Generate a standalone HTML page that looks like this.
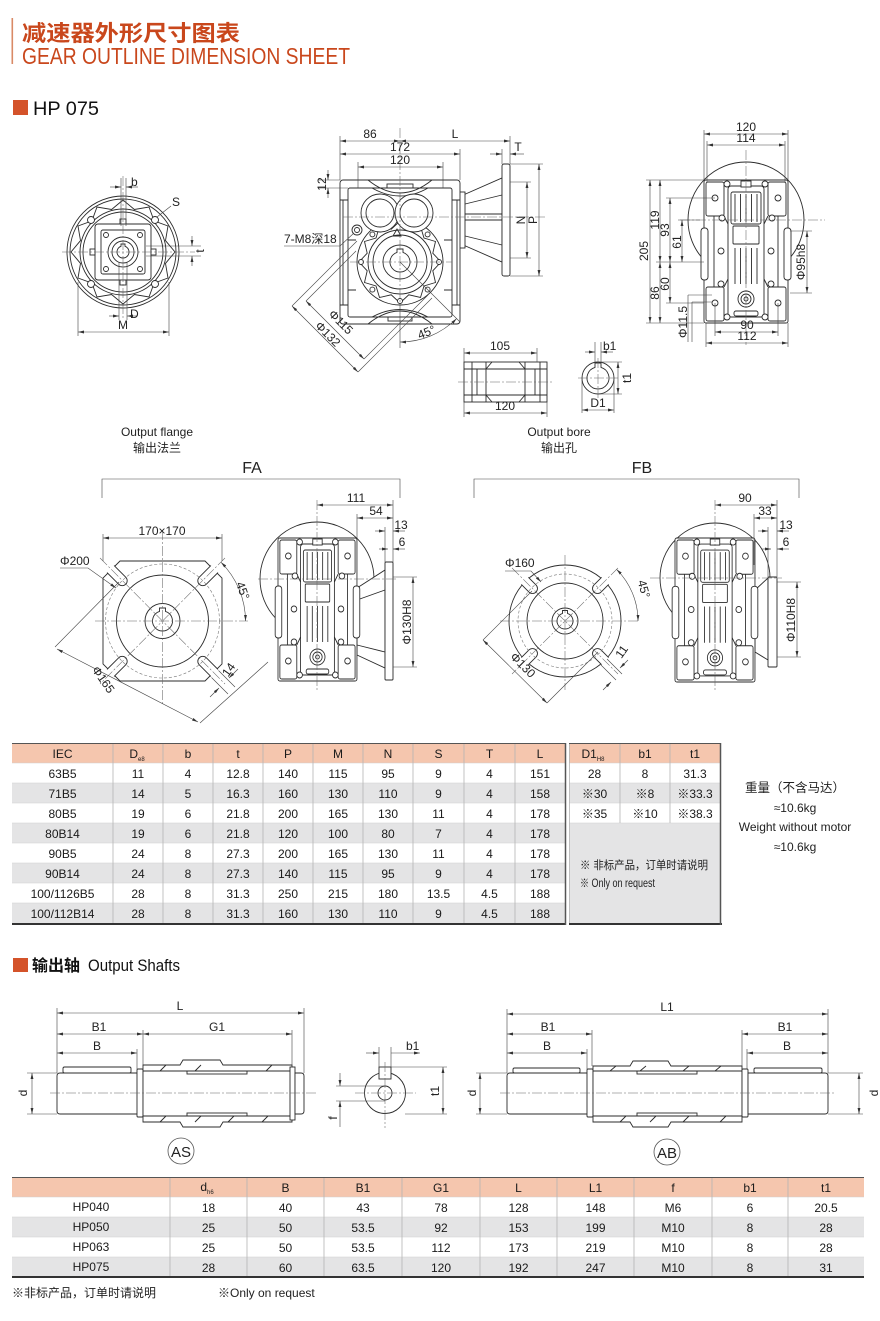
<!DOCTYPE html>
<html><head><meta charset="utf-8">
<style>
html,body{margin:0;padding:0;background:#fff}
svg{display:block}
.o{fill:none;stroke:#2b2b2b;stroke-width:.9}
.w{fill:#fff;stroke:#2b2b2b;stroke-width:.9}
.d{fill:none;stroke:#444;stroke-width:.6}
.da{marker-start:url(#a);marker-end:url(#a)}
.de{marker-end:url(#a)}
.c{fill:none;stroke:#666;stroke-width:.55;stroke-dasharray:10 2 2 2}
.dc{fill:none;stroke:#777;stroke-width:.6;stroke-dasharray:3 2}
text{font-family:"Liberation Sans Narrow","Liberation Sans","Noto Sans CJK SC",sans-serif;fill:#222;font-size:12px}
.m{text-anchor:middle}
.tb{font-size:12px}
.tb text{fill:#1a1a1a}
.gl{stroke:#b4b4b4;stroke-width:.8}
.rl{stroke:#cfcfcf;stroke-width:.6}
</style></head><body>
<svg width="880" height="1321" viewBox="0 0 880 1321" xmlns="http://www.w3.org/2000/svg">
<defs>
<marker id="a" viewBox="0 0 10 10" refX="10" refY="5" markerWidth="6" markerHeight="6" markerUnits="userSpaceOnUse" orient="auto-start-reverse"><path d="M0,2.6 L10,5 L0,7.4z" fill="#333"/></marker>
<g id="ev">
  <rect class="w" x="0" y="0" width="84" height="143" rx="2"/>
  <rect class="w" x="-3" y="48" width="7" height="52" rx="3"/>
  <rect class="w" x="80" y="48" width="7" height="52" rx="3"/>
  <rect class="o" x="2" y="2" width="18" height="34" rx="2"/>
  <rect class="o" x="64" y="2" width="18" height="34" rx="2"/>
  <rect class="o" x="2" y="107" width="18" height="34" rx="2"/>
  <rect class="o" x="64" y="107" width="18" height="34" rx="2"/>
  <path class="o" d="M10,36 V107 M74,36 V107 M20,36 L24,44 M64,36 L60,44 M20,107 L24,99 M64,107 L60,99"/>
  <rect class="w" x="24" y="6" width="36" height="131" rx="3"/>
  <rect class="o" x="27" y="12" width="30" height="32" rx="2"/>
  <rect class="o" x="29" y="46" width="26" height="18" rx="1"/>
  <path class="o" d="M31,14 V42 M36.5,14 V42 M42,14 V42 M47.5,14 V42 M53,14 V42 M31,68 V104 M36.5,68 V104 M42,68 V104 M47.5,68 V104 M53,68 V104"/>
  <rect class="w" x="37" y="1" width="10" height="6"/>
  <rect class="o" x="30" y="131" width="24" height="5" rx="2"/>
  <circle class="w" cx="42" cy="119" r="8"/><circle class="o" cx="42" cy="119" r="5"/><circle class="o" cx="42" cy="119" r="2"/>
  <g class="w">
   <circle cx="11" cy="18" r="3"/><circle cx="74" cy="18" r="3"/>
   <circle cx="18" cy="38" r="3"/><circle cx="68" cy="38" r="3"/>
   <circle cx="17" cy="71" r="3"/><circle cx="67" cy="71" r="3"/>
   <circle cx="17" cy="104" r="3"/><circle cx="67" cy="104" r="3"/>
   <circle cx="11" cy="123" r="3"/><circle cx="74" cy="123" r="3"/>
   <circle cx="23" cy="137" r="3"/><circle cx="61" cy="137" r="3"/>
   <circle cx="23" cy="4" r="3"/><circle cx="61" cy="4" r="3"/>
  </g>
</g>
<clipPath id="clipA"><polygon points="119.6,560 205.4,560 223,577.6 223,664.4 205.4,682 119.6,682 102,664.4 102,577.6"/></clipPath>
<clipPath id="clipB"><circle cx="565" cy="621" r="57"/></clipPath>
</defs>

<!-- ===== HEADER ===== -->
<rect x="11.5" y="18" width="1.6" height="46" fill="#d98a66"/>
<text x="22" y="41" textLength="218" lengthAdjust="spacingAndGlyphs" style="font-family:'Liberation Sans','Noto Sans CJK SC',sans-serif;font-size:22px;font-weight:bold;fill:#c9471c">减速器外形尺寸图表</text>
<text x="22" y="64" textLength="328" lengthAdjust="spacingAndGlyphs" style="font-family:'Liberation Sans',sans-serif;font-size:23px;fill:#c9471c">GEAR OUTLINE DIMENSION SHEET</text>
<rect x="13" y="100" width="15" height="15" fill="#d4532a"/>
<text x="33" y="115" textLength="66" lengthAdjust="spacingAndGlyphs" style="font-family:'Liberation Sans',sans-serif;font-size:19px;fill:#111">HP 075</text>

<!-- ===== OUTPUT FLANGE ===== -->
<circle class="w" cx="123" cy="252" r="56"/>
<circle class="o" cx="123" cy="252" r="53"/>
<polygon class="o" points="175,252 165.5,263.4 168,278 154.1,283.1 149,297 134.4,294.5 123,304 111.6,294.5 97,297 91.9,283.1 78,278 80.5,263.4 71,252 80.5,240.6 78,226 91.9,220.9 97,207 111.6,209.5 123,200 134.4,209.5 149,207 154.1,220.9 168,226 165.5,240.6"/>
<circle class="w" cx="123" cy="252" r="43"/>
<circle class="o" cx="123" cy="252" r="40"/>
<g class="w"><circle cx="155" cy="220" r="3.5"/><circle cx="91" cy="220" r="3.5"/><circle cx="91" cy="284" r="3.5"/><circle cx="155" cy="284" r="3.5"/></g>
<rect class="w" x="95" y="224" width="56" height="56" rx="3"/>
<rect class="o" x="101" y="230" width="44" height="44" rx="2"/>
<g class="w"><rect x="120" y="219" width="6" height="5"/><rect x="120" y="280" width="6" height="5"/><rect x="90" y="249" width="5" height="6"/><rect x="151" y="249" width="5" height="6"/></g>
<g class="o"><circle cx="106" cy="235" r="2.5"/><circle cx="140" cy="235" r="2.5"/><circle cx="106" cy="269" r="2.5"/><circle cx="140" cy="269" r="2.5"/></g>
<circle class="w" cx="123" cy="252" r="15"/>
<circle class="o" cx="123" cy="252" r="11"/>
<path class="o" d="M121,246.34 V244 H125 V246.34 A6,6 0 1,1 121,246.34 Z"/>
<line class="c" x1="62" y1="252" x2="195" y2="252"/>
<line class="c" x1="123" y1="176" x2="123" y2="318"/>
<!-- dims -->
<path class="d" d="M121,178 V226 M126,178 V226"/>
<path class="d de" d="M110,187 H121"/><path class="d de" d="M138,187 H126"/>
<text x="131" y="186">b</text>
<path class="d" d="M157,217 L171,206"/>
<text x="172" y="206">S</text>
<path class="d" d="M146,246 H201 M146,256 H201"/>
<path class="d de" d="M192,236 V246"/><path class="d de" d="M192,266 V256"/>
<text class="m" transform="rotate(-90 204 251)" x="204" y="251">t</text>
<path class="d" d="M119,262 V320 M127,262 V320"/>
<path class="d de" d="M109,316 H119"/><path class="d de" d="M137,316 H127"/>
<text x="130" y="318">D</text>
<path class="d" d="M78,282 V336 M169,282 V336"/>
<path class="d da" d="M78,332 H169"/>
<text class="m" x="123" y="329">M</text>
<text class="m" x="157" y="436">Output flange</text>
<text class="m" x="157" y="452" style="font-family:'Liberation Sans','Noto Sans CJK SC',sans-serif">输出法兰</text>

<!-- ===== MAIN SIDE VIEW ===== -->
<polygon class="w" points="461,196 502,178 502,262 461,244"/>
<path class="o" d="M461,205 L502,195 M461,235 L502,245 M461,214 H502 M461,220 H502"/>
<rect class="w" x="459" y="192" width="6" height="56"/>
<rect class="w" x="502" y="164" width="8" height="112" rx="2"/>
<rect class="w" x="340" y="180" width="120" height="144" rx="3"/>
<rect class="o" x="348" y="188" width="104" height="129" rx="2"/>
<path class="o" d="M343,200 V305 M457,200 V305 M340,200 H348 M340,305 H348 M452,200 H460 M452,305 H460 M368,180 Q400,206 432,180 M372,188 Q400,204 428,188 M368,324 Q400,298 432,324 M372,317 Q400,302 428,317 M348,240 H356 M444,240 H452 M348,290 H356 M444,290 H452"/>
<rect class="o" x="387" y="184" width="26" height="4"/>
<rect class="o" x="388" y="317" width="24" height="4"/>
<circle class="w" cx="400" cy="262" r="43"/>
<polygon class="o" points="441,262 432.8,270.8 435.5,282.5 424,286 420.5,297.5 408.8,294.8 400,303 391.2,294.8 379.5,297.5 376,286 364.5,282.5 367.2,270.8 359,262 367.2,253.2 364.5,241.5 376,238 379.5,226.5 391.2,229.2 400,221 408.8,229.2 420.5,226.5 424,238 435.5,241.5 432.8,253.2"/>
<circle class="w" cx="400" cy="262" r="32"/>
<circle class="o" cx="400" cy="262" r="27"/>
<circle class="o" cx="400" cy="262" r="17"/>
<path class="o" d="M397,252.46 V249 H403 V252.46 A10,10 0 1,1 397,252.46 Z"/>
<g class="w"><circle cx="439" cy="262" r="2.5"/><circle cx="361" cy="262" r="2.5"/><circle cx="427.6" cy="289.6" r="2.5"/><circle cx="372.4" cy="289.6" r="2.5"/><circle cx="400" cy="301" r="2.5"/><circle cx="372.4" cy="234.4" r="2.5"/><circle cx="427.6" cy="234.4" r="2.5"/></g>
<circle class="w" cx="380" cy="213" r="19"/>
<circle class="w" cx="414" cy="213" r="19"/>
<circle class="o" cx="380" cy="213" r="14"/>
<circle class="o" cx="414" cy="213" r="14"/>
<path class="o" d="M393,236 L397,229 L401,236 Z"/>
<circle class="w" cx="357" cy="230" r="5"/><circle class="o" cx="357" cy="230" r="2.5"/>
<line class="c" x1="400" y1="128" x2="400" y2="305"/>
<line class="c" x1="343" y1="217" x2="545" y2="217"/>
<line class="c" x1="350" y1="262" x2="452" y2="262"/>
<!-- dims main -->
<path class="d" d="M340,136 V180 M510,136 V164 M460,149 V180 M358,162 V188 M443,162 V188"/>
<path class="d da" d="M340,141 H400"/><path class="d da" d="M400,141 H510"/>
<text class="m" x="370" y="138">86</text><text class="m" x="455" y="138">L</text>
<path class="d da" d="M340,154 H460"/>
<text class="m" x="400" y="151">172</text>
<path class="d da" d="M358,167 H443"/>
<text class="m" x="400" y="164">120</text>
<path class="d" d="M502,149 V164"/>
<path class="d de" d="M490,154 H502"/><path class="d de" d="M524,154 H510"/>
<text class="m" x="518" y="151">T</text>
<path class="d" d="M318,180 H340 M318,188 H348"/>
<path class="d de" d="M328,170 V180"/><path class="d de" d="M328,198 V188"/>
<text class="m" transform="rotate(-90 326 184)" x="326" y="184">12</text>
<path class="d" d="M510,182 H531 M510,258 H531 M510,164 H543 M510,276 H543"/>
<path class="d da" d="M527,182 V258"/><path class="d da" d="M539,164 V276"/>
<text class="m" transform="rotate(-90 525 220)" x="525" y="220">N</text>
<text class="m" transform="rotate(-90 537 220)" x="537" y="220">P</text>
<text x="284" y="243">7-M8<tspan style="font-family:'Liberation Sans','Noto Sans CJK SC',sans-serif">深</tspan>18</text>
<path class="d" d="M284,246 H340 L354,233"/>
<path class="d" d="M292,306 L357,241 M358,372 L432,298 M306,301 L356,251 M364,359 L428,295"/>
<path class="d da" d="M292,306 L358,372"/>
<path class="d da" d="M306,301 L364,359"/>
<text class="m" transform="rotate(45 338 325)" x="338" y="325">Φ115</text>
<text class="m" transform="rotate(45 325 337)" x="325" y="337">Φ132</text>
<path class="d" d="M400,305 V348 M400,262 L460,322"/>
<path class="d da" d="M400,342 A80,80 0 0,0 456.6,318.6"/>
<text class="m" transform="rotate(-22 428 336)" x="428" y="336">45°</text>

<!-- ===== OUTPUT BORE ===== -->
<rect class="w" x="464" y="362" width="83" height="40"/>
<path class="o" d="M464,369 H547 M464,395 H547 M472,362 V402 M477,369 V395 M535,369 V395 M540,362 V402 M486,362 V402 M525,362 V402 M486,369 L492,362 M525,369 L519,362 M486,395 L492,402 M525,395 L519,402"/>
<line class="c" x1="458" y1="382" x2="553" y2="382"/>
<path class="d" d="M464,348 V362 M537,348 V362 M464,402 V417 M547,402 V417"/>
<path class="d da" d="M464,353 H537"/>
<text class="m" x="500" y="350">105</text>
<path class="d da" d="M464,413 H547"/>
<text class="m" x="505" y="410">120</text>
<circle class="w" cx="598" cy="378" r="16"/>
<path class="o" d="M595,367.42 V363 H601 V367.42 A11,11 0 1,1 595,367.42 Z"/>
<line class="c" x1="578" y1="378" x2="618" y2="378"/>
<line class="c" x1="598" y1="358" x2="598" y2="398"/>
<path class="d" d="M595,342 V363 M601,342 V363"/>
<path class="d de" d="M585,352 H595"/><path class="d de" d="M613,352 H601"/>
<text x="603" y="350">b1</text>
<path class="d" d="M601,362 H622 M598,394 H622"/>
<path class="d da" d="M618,362 V394"/>
<text class="m" transform="rotate(-90 631 378)" x="631" y="378">t1</text>
<path class="d" d="M582,380 V413 M614,380 V413"/>
<path class="d da" d="M582,410 H614"/>
<text class="m" x="598" y="407">D1</text>
<text class="m" x="559" y="436">Output bore</text>
<text class="m" x="559" y="452" style="font-family:'Liberation Sans','Noto Sans CJK SC',sans-serif">输出孔</text>

<!-- ===== RIGHT END VIEW ===== -->
<circle class="w" cx="746" cy="220" r="58"/>
<use href="#ev" transform="translate(704,180)"/>
<line class="c" x1="746" y1="150" x2="746" y2="345"/>
<line class="c" x1="680" y1="220" x2="825" y2="220"/>
<path class="d" d="M704,130 V180 M788,130 V180 M707,141 V182 M785,141 V182"/>
<path class="d da" d="M704,134 H788"/><text class="m" x="746" y="131">120</text>
<path class="d da" d="M707,145 H785"/><text class="m" x="746" y="142">114</text>
<path class="d" d="M646,180 H704 M646,323 H704 M656,262 H704 M666,198 H715 M678,220 H700 M666,303 H704"/>
<path class="d da" d="M650,180 V323"/>
<text class="m" transform="rotate(-90 648 251)" x="648" y="251">205</text>
<path class="d da" d="M660,180 V262"/>
<text class="m" transform="rotate(-90 659 220)" x="659" y="220">119</text>
<path class="d da" d="M670,198 V262"/>
<text class="m" transform="rotate(-90 669 230)" x="669" y="230">93</text>
<path class="d da" d="M682,220 V262"/>
<text class="m" transform="rotate(-90 681 242)" x="681" y="242">61</text>
<path class="d da" d="M660,262 V323"/>
<text class="m" transform="rotate(-90 659 293)" x="659" y="293">86</text>
<path class="d da" d="M670,262 V303"/>
<text class="m" transform="rotate(-90 669 284)" x="669" y="284">60</text>
<path class="d" d="M688,295 V342 M692,302 V342 M688,295 H712 M692,302 H712"/>
<text class="m" transform="rotate(-90 687 322)" x="687" y="322">Φ11.5</text>
<path class="d" d="M790,231 H812 M790,293 H812"/>
<path class="d da" d="M807,231 V293"/>
<text class="m" transform="rotate(-90 805 262)" x="805" y="262">Φ95h8</text>
<path class="d" d="M715,303 V336 M778,303 V336 M706,323 V347 M788,323 V347"/>
<path class="d da" d="M715,332 H778"/><text class="m" x="747" y="329">90</text>
<path class="d da" d="M706,343 H788"/><text class="m" x="747" y="340">112</text>

<!-- ===== FA ===== -->
<path class="d" d="M102,498 V479 H400 V498"/>
<text class="m" x="252" y="473" style="font-size:16px;font-family:'Liberation Sans',sans-serif">FA</text>
<polygon class="w" points="120,561 205,561 222,578 222,664 205,681 120,681 103,664 103,578"/>
<g clip-path="url(#clipA)">
<path class="w" transform="translate(162.5,621) rotate(45)" d="M90,-5 L57,-5 A5,5 0 0 0 57,5 L90,5 Z"/>
<path class="w" transform="translate(162.5,621) rotate(135)" d="M90,-5 L57,-5 A5,5 0 0 0 57,5 L90,5 Z"/>
<path class="w" transform="translate(162.5,621) rotate(225)" d="M90,-5 L57,-5 A5,5 0 0 0 57,5 L90,5 Z"/>
<path class="w" transform="translate(162.5,621) rotate(315)" d="M90,-5 L57,-5 A5,5 0 0 0 57,5 L90,5 Z"/>
</g>
<circle class="dc" cx="162.5" cy="621" r="57"/>
<circle class="o" cx="162.5" cy="621" r="46"/>
<circle class="o" cx="162.5" cy="621" r="17.5"/>
<path class="o" d="M159.5,611.46 V608 H165.5 V611.46 A10,10 0 1,1 159.5,611.46 Z"/>
<line class="c" x1="95" y1="621" x2="248" y2="621"/>
<line class="c" x1="162.5" y1="530" x2="162.5" y2="705"/>
<line class="c" x1="100" y1="558" x2="225" y2="684"/>
<line class="c" x1="225" y1="558" x2="100" y2="684"/>
<path class="d" d="M103,534 V561 M222,534 V561"/>
<path class="d da" d="M103,538 H222"/>
<text class="m" x="162" y="535">170×170</text>
<text x="60" y="565">Φ200</text>
<path class="d de" d="M60,568 H88 L116,588"/>
<path class="d" d="M55,647 L119,582 M200,723 L268,662"/>
<path class="d da" d="M57,649 L198,722"/>
<text class="m" transform="rotate(55 100 682)" x="100" y="682">Φ165</text>
<path class="d da" d="M221,562.3 A83,83 0 0 1 245.5,621"/>
<text class="m" transform="rotate(70 239 592)" x="239" y="592">45°</text>
<path class="d" d="M218.5,670.5 L235,687 M211.5,677.5 L228,694"/>
<path class="d de" d="M238,669 L229,678"/><path class="d de" d="M210,697 L219,688"/>
<text class="m" transform="rotate(-55 232 672)" x="232" y="672">14</text>
<!-- FA side -->
<circle class="w" cx="317" cy="579" r="57"/>
<polygon class="w" points="357,588 385,570 385,668 357,655"/>
<path class="o" d="M357,600 L385,590 M357,645 L385,652"/>
<rect class="w" x="385" y="562" width="8" height="118" rx="1"/>
<use href="#ev" transform="translate(278,538) scale(0.94,1)"/>
<line class="c" x1="258" y1="579" x2="398" y2="579"/>
<line class="c" x1="317" y1="500" x2="317" y2="692"/>
<path class="d" d="M393,500 V562 M357,514 V538 M385,527 V562"/>
<path class="d da" d="M317,505 H393"/><text class="m" x="356" y="502">111</text>
<path class="d da" d="M357,518 H393"/><text class="m" x="376" y="515">54</text>
<path class="d de" d="M375,531 H385"/><path class="d de" d="M405,531 H393"/>
<text class="m" x="401" y="529">13</text>
<path class="d de" d="M379,549 H388"/><path class="d de" d="M405,549 H393"/>
<text class="m" x="402" y="546">6</text>
<path class="d" d="M393,577 H417 M393,667 H417"/>
<path class="d da" d="M413,577 V667"/>
<text class="m" transform="rotate(-90 411 622)" x="411" y="622">Φ130H8</text>

<!-- ===== FB ===== -->
<path class="d" d="M474,498 V479 H799 V498"/>
<text class="m" x="642" y="473" style="font-size:16px;font-family:'Liberation Sans',sans-serif">FB</text>
<circle class="w" cx="565" cy="621" r="56"/>
<g clip-path="url(#clipB)">
<path class="w" transform="translate(565,621) rotate(45)" d="M66,-5 L46,-5 A5,5 0 0 0 46,5 L66,5 Z"/>
<path class="w" transform="translate(565,621) rotate(135)" d="M66,-5 L46,-5 A5,5 0 0 0 46,5 L66,5 Z"/>
<path class="w" transform="translate(565,621) rotate(225)" d="M66,-5 L46,-5 A5,5 0 0 0 46,5 L66,5 Z"/>
<path class="w" transform="translate(565,621) rotate(315)" d="M66,-5 L46,-5 A5,5 0 0 0 46,5 L66,5 Z"/>
</g>
<circle class="dc" cx="565" cy="621" r="47"/>
<circle class="o" cx="565" cy="621" r="38"/>
<circle class="o" cx="565" cy="621" r="13"/>
<path class="o" d="M562.5,613.4 V610.5 H567.5 V613.4 A8,8 0 1,1 562.5,613.4 Z"/>
<line class="c" x1="500" y1="621" x2="640" y2="621"/>
<line class="c" x1="565" y1="555" x2="565" y2="690"/>
<line class="c" x1="512" y1="568" x2="618" y2="674"/>
<line class="c" x1="618" y1="568" x2="512" y2="674"/>
<text x="505" y="567">Φ160</text>
<path class="d de" d="M505,571 H531 L541,582"/>
<path class="d da" d="M616.6,569.4 A73,73 0 0 1 638,621"/>
<text class="m" transform="rotate(75 640 590)" x="640" y="590">45°</text>
<path class="d" d="M483,640 L532,591 M547,703 L598,652"/>
<path class="d da" d="M483,640 L547,703"/>
<text class="m" transform="rotate(45 520 668)" x="520" y="668">Φ130</text>
<path class="d" d="M607,659 L622,674 M601,665 L616,680"/>
<path class="d de" d="M628,660 L620,668"/><path class="d de" d="M603,690 L611,682"/>
<text class="m" transform="rotate(-55 625 654)" x="625" y="654">11</text>
<!-- FB side -->
<circle class="w" cx="715" cy="578" r="55"/>
<polygon class="w" points="755,590 768,578 768,660 755,652"/>
<rect class="w" x="768" y="577" width="9" height="90" rx="1"/>
<use href="#ev" transform="translate(675,538) scale(0.952,1.007)"/>
<line class="c" x1="650" y1="578" x2="782" y2="578"/>
<line class="c" x1="715" y1="500" x2="715" y2="692"/>
<path class="d" d="M777,500 V577 M754,514 V565 M768,527 V577"/>
<path class="d da" d="M715,505 H777"/><text class="m" x="745" y="502">90</text>
<path class="d da" d="M754,518 H777"/><text class="m" x="765" y="515">33</text>
<path class="d de" d="M758,531 H768"/><path class="d de" d="M789,531 H777"/>
<text class="m" x="786" y="529">13</text>
<path class="d de" d="M762,549 H771"/><path class="d de" d="M789,549 H777"/>
<text class="m" x="786" y="546">6</text>
<path class="d" d="M777,582 H801 M777,657 H801"/>
<path class="d da" d="M797,582 V657"/>
<text class="m" transform="rotate(-90 795 620)" x="795" y="620">Φ110H8</text>

<!-- ===== TABLE 1 ===== -->
<rect x="12" y="743" width="553" height="20" fill="#f5c6ae"/>
<g fill="#e4e4e5"><rect x="12" y="783" width="553" height="20"/><rect x="12" y="823" width="553" height="20"/><rect x="12" y="863" width="553" height="20"/><rect x="12" y="903" width="553" height="21"/></g>
<path class="rl" d="M12,763 H565 M12,783 H565 M12,803 H565 M12,823 H565 M12,843 H565 M12,863 H565 M12,883 H565 M12,903 H565"/>
<path class="gl" d="M113,743 V924 M163,743 V924 M213,743 V924 M263,743 V924 M313,743 V924 M363,743 V924 M413,743 V924 M464,743 V924 M515,743 V924"/>
<line x1="12" y1="743.5" x2="566" y2="743.5" stroke="#555" stroke-width="1"/>
<line x1="12" y1="924" x2="566" y2="924" stroke="#333" stroke-width="2"/>
<line x1="565.5" y1="743" x2="565.5" y2="925" stroke="#555" stroke-width="1.5"/>
<g class="tb" text-anchor="middle">
<text x="62.5" y="758">IEC</text><text x="137" y="758">D<tspan font-size="6" dy="3">e8</tspan></text><text x="188" y="758">b</text><text x="238" y="758">t</text><text x="288" y="758">P</text><text x="338" y="758">M</text><text x="388" y="758">N</text><text x="438.5" y="758">S</text><text x="489.5" y="758">T</text><text x="540" y="758">L</text>
<text x="62.5" y="778">63B5</text><text x="138" y="778">11</text><text x="188" y="778">4</text><text x="238" y="778">12.8</text><text x="288" y="778">140</text><text x="338" y="778">115</text><text x="388" y="778">95</text><text x="438.5" y="778">9</text><text x="489.5" y="778">4</text><text x="540" y="778">151</text>
<text x="62.5" y="798">71B5</text><text x="138" y="798">14</text><text x="188" y="798">5</text><text x="238" y="798">16.3</text><text x="288" y="798">160</text><text x="338" y="798">130</text><text x="388" y="798">110</text><text x="438.5" y="798">9</text><text x="489.5" y="798">4</text><text x="540" y="798">158</text>
<text x="62.5" y="818">80B5</text><text x="138" y="818">19</text><text x="188" y="818">6</text><text x="238" y="818">21.8</text><text x="288" y="818">200</text><text x="338" y="818">165</text><text x="388" y="818">130</text><text x="438.5" y="818">11</text><text x="489.5" y="818">4</text><text x="540" y="818">178</text>
<text x="62.5" y="838">80B14</text><text x="138" y="838">19</text><text x="188" y="838">6</text><text x="238" y="838">21.8</text><text x="288" y="838">120</text><text x="338" y="838">100</text><text x="388" y="838">80</text><text x="438.5" y="838">7</text><text x="489.5" y="838">4</text><text x="540" y="838">178</text>
<text x="62.5" y="858">90B5</text><text x="138" y="858">24</text><text x="188" y="858">8</text><text x="238" y="858">27.3</text><text x="288" y="858">200</text><text x="338" y="858">165</text><text x="388" y="858">130</text><text x="438.5" y="858">11</text><text x="489.5" y="858">4</text><text x="540" y="858">178</text>
<text x="62.5" y="878">90B14</text><text x="138" y="878">24</text><text x="188" y="878">8</text><text x="238" y="878">27.3</text><text x="288" y="878">140</text><text x="338" y="878">115</text><text x="388" y="878">95</text><text x="438.5" y="878">9</text><text x="489.5" y="878">4</text><text x="540" y="878">178</text>
<text x="62.5" y="898">100/1126B5</text><text x="138" y="898">28</text><text x="188" y="898">8</text><text x="238" y="898">31.3</text><text x="288" y="898">250</text><text x="338" y="898">215</text><text x="388" y="898">180</text><text x="438.5" y="898">13.5</text><text x="489.5" y="898">4.5</text><text x="540" y="898">188</text>
<text x="62.5" y="918">100/112B14</text><text x="138" y="918">28</text><text x="188" y="918">8</text><text x="238" y="918">31.3</text><text x="288" y="918">160</text><text x="338" y="918">130</text><text x="388" y="918">110</text><text x="438.5" y="918">9</text><text x="489.5" y="918">4.5</text><text x="540" y="918">188</text>
</g>

<!-- ===== TABLE 2 ===== -->
<rect x="569" y="743" width="151" height="20" fill="#f5c6ae"/>
<rect x="569" y="783" width="151" height="20" fill="#e4e4e5"/>
<rect x="569" y="823" width="151" height="101" fill="#e4e4e5"/>
<path class="rl" d="M569,763 H720 M569,783 H720 M569,803 H720 M569,823 H720"/>
<path class="gl" d="M620,743 V823 M670,743 V823 M569.5,743 V924"/>
<line x1="569" y1="743.5" x2="721" y2="743.5" stroke="#555" stroke-width="1"/>
<line x1="569" y1="924" x2="722" y2="924" stroke="#333" stroke-width="2"/>
<line x1="720.5" y1="743" x2="720.5" y2="925" stroke="#555" stroke-width="1.5"/>
<g class="tb" text-anchor="middle">
<text x="593" y="758">D1<tspan font-size="6" dy="3">H8</tspan></text><text x="645" y="758">b1</text><text x="695" y="758">t1</text>
<text x="594.5" y="778">28</text><text x="645" y="778">8</text><text x="695" y="778">31.3</text>
<text x="594.5" y="798">※30</text><text x="645" y="798">※8</text><text x="695" y="798">※33.3</text>
<text x="594.5" y="818">※35</text><text x="645" y="818">※10</text><text x="695" y="818">※38.3</text>
</g>
<text x="580" y="869" textLength="128" lengthAdjust="spacingAndGlyphs" style="font-size:11.5px;font-family:'Liberation Sans','Noto Sans CJK SC',sans-serif">※ 非标产品，订单时请说明</text>
<text x="580" y="887" textLength="75" lengthAdjust="spacingAndGlyphs" style="font-size:11.5px">※ Only on request</text>

<!-- weight -->
<g text-anchor="middle">
<text x="795" y="792" style="font-size:12.5px;font-family:'Liberation Sans','Noto Sans CJK SC',sans-serif">重量（不含马达）</text>
<text x="795" y="812">≈10.6kg</text>
<text x="795" y="831">Weight without motor</text>
<text x="795" y="851">≈10.6kg</text>
</g>

<!-- ===== OUTPUT SHAFTS ===== -->
<rect x="13" y="958" width="15" height="14" fill="#d4532a"/>
<text x="32" y="971" style="font-family:'Liberation Sans','Noto Sans CJK SC',sans-serif;font-size:16px;font-weight:bold;fill:#111">输出轴</text>
<text x="88" y="971" textLength="92" lengthAdjust="spacingAndGlyphs" style="font-family:'Liberation Sans',sans-serif;font-size:17px;fill:#111">Output Shafts</text>

<!-- AS shaft -->
<path class="w" d="M60,1073 H139 V1114 H60 Q57,1114 57,1111 V1076 Q57,1073 60,1073 Z"/>
<rect class="w" x="63" y="1067" width="68" height="6" rx="1.5"/>
<rect class="w" x="137" y="1069" width="6" height="48" rx="1"/>
<path class="w" d="M143,1065 H180 L183,1060 H220 L223,1065 H292 V1122 H223 L220,1127 H183 L180,1122 H143 Z"/>
<path class="o" d="M143,1071 H292 M143,1116 H292 M160,1071 L166,1065 M195,1071 L201,1065 M266,1071 L272,1065 M160,1122 L166,1116 M195,1122 L201,1116 M228,1122 L234,1116 M262,1122 L268,1116"/>
<rect class="o" x="187" y="1071" width="60" height="3"/>
<rect class="o" x="187" y="1113" width="60" height="3"/>
<rect class="w" x="290" y="1067" width="5" height="53"/>
<path class="w" d="M295,1073 H301 Q304,1073 304,1076 V1111 Q304,1114 301,1114 H295 Z"/>
<line class="c" x1="50" y1="1093" x2="316" y2="1093"/>
<path class="d" d="M57,1008 V1073 M304,1008 V1073 M143,1030 V1065 M292,1030 V1065 M137,1049 V1069"/>
<path class="d da" d="M57,1013 H304"/><text class="m" x="180" y="1010">L</text>
<path class="d da" d="M57,1034 H143"/><text class="m" x="99" y="1031">B1</text>
<path class="d da" d="M143,1034 H292"/><text class="m" x="217" y="1031">G1</text>
<path class="d da" d="M57,1053 H137"/><text class="m" x="97" y="1050">B</text>
<path class="d" d="M27,1073 H57 M27,1114 H57"/>
<path class="d da" d="M32,1073 V1114"/>
<text class="m" transform="rotate(-90 27 1093)" x="27" y="1093">d</text>
<circle cx="181" cy="1151" r="13" fill="#fff" stroke="#555" stroke-width=".8"/>
<text class="m" x="181" y="1157" style="font-size:15px">AS</text>
<!-- AS end view -->
<circle class="w" cx="385" cy="1093" r="20.5"/>
<circle class="o" cx="385" cy="1093" r="7"/>
<rect class="w" x="379" y="1067" width="12" height="12"/>
<line class="c" x1="355" y1="1093" x2="416" y2="1093"/>
<line class="c" x1="385" y1="1062" x2="385" y2="1128"/>
<path class="d" d="M379,1047 V1067 M391,1047 V1067"/>
<path class="d de" d="M366,1053 H379"/><path class="d de" d="M404,1053 H391 M404,1053 H420"/>
<text x="406" y="1050">b1</text>
<path class="d" d="M391,1067 H447 M405,1114 H447"/>
<path class="d da" d="M443,1067 V1114"/>
<text class="m" transform="rotate(-90 439 1091)" x="439" y="1091">t1</text>
<path class="d" d="M336,1086 H385 M336,1101 H385"/>
<path class="d de" d="M340,1073 V1086"/><path class="d de" d="M340,1127 V1101"/>
<text class="m" transform="rotate(-90 337 1118)" x="337" y="1118">f</text>

<!-- AB shaft -->
<path class="w" d="M510,1073 H589 V1114 H510 Q507,1114 507,1111 V1076 Q507,1073 510,1073 Z"/>
<rect class="w" x="513" y="1068" width="67" height="5" rx="1.5"/>
<rect class="w" x="587" y="1069" width="6" height="48" rx="1"/>
<path class="w" d="M593,1066 H630 L633,1061 H668 L671,1066 H742 V1122 H671 L668,1127 H633 L630,1122 H593 Z"/>
<path class="o" d="M593,1071 H742 M593,1116 H742 M610,1071 L616,1066 M640,1071 L646,1066 M683,1071 L689,1066 M715,1071 L721,1066 M620,1122 L626,1116 M650,1122 L656,1116 M683,1122 L689,1116 M720,1122 L726,1116"/>
<rect class="o" x="637" y="1071" width="60" height="3"/>
<rect class="o" x="637" y="1113" width="60" height="3"/>
<rect class="w" x="742" y="1069" width="6" height="48" rx="1"/>
<path class="w" d="M748,1073 H825 Q828,1073 828,1076 V1111 Q828,1114 825,1114 H748 Z"/>
<rect class="w" x="754" y="1068" width="68" height="5" rx="1.5"/>
<line class="c" x1="500" y1="1093" x2="835" y2="1093"/>
<path class="d" d="M507,1009 V1073 M828,1009 V1073 M592,1030 V1066 M742,1030 V1066 M587,1049 V1069 M747,1049 V1069"/>
<path class="d da" d="M507,1014 H828"/><text class="m" x="667" y="1011">L1</text>
<path class="d da" d="M507,1034 H592"/><text class="m" x="548" y="1031">B1</text>
<path class="d da" d="M742,1034 H828"/><text class="m" x="785" y="1031">B1</text>
<path class="d da" d="M507,1053 H587"/><text class="m" x="547" y="1050">B</text>
<path class="d da" d="M747,1053 H828"/><text class="m" x="787" y="1050">B</text>
<path class="d" d="M476,1073 H507 M476,1114 H507 M828,1073 H863 M828,1114 H863"/>
<path class="d da" d="M480,1073 V1114"/><path class="d da" d="M859,1073 V1114"/>
<text class="m" transform="rotate(-90 476 1093)" x="476" y="1093">d</text>
<text class="m" transform="rotate(-90 878 1093)" x="878" y="1093">d</text>
<circle cx="667" cy="1152" r="13" fill="#fff" stroke="#555" stroke-width=".8"/>
<text class="m" x="667" y="1158" style="font-size:15px">AB</text>

<!-- ===== TABLE 3 ===== -->
<rect x="12" y="1177" width="852" height="20" fill="#f5c6ae"/>
<g fill="#e4e4e5"><rect x="12" y="1217" width="852" height="20"/><rect x="12" y="1257" width="852" height="20"/></g>
<path class="rl" d="M12,1197 H864 M12,1217 H864 M12,1237 H864 M12,1257 H864"/>
<path class="gl" d="M170,1177 V1277 M247,1177 V1277 M324,1177 V1277 M402,1177 V1277 M480,1177 V1277 M557,1177 V1277 M634,1177 V1277 M712,1177 V1277 M788,1177 V1277"/>
<line x1="12" y1="1177.5" x2="864" y2="1177.5" stroke="#555" stroke-width="1"/>
<line x1="12" y1="1277" x2="864" y2="1277" stroke="#333" stroke-width="2"/>
<g class="tb" text-anchor="middle">
<text x="207" y="1191">d<tspan font-size="6" dy="3">h6</tspan></text><text x="285.5" y="1192">B</text><text x="363" y="1192">B1</text><text x="441" y="1192">G1</text><text x="518.5" y="1192">L</text><text x="595.5" y="1192">L1</text><text x="673" y="1192">f</text><text x="750" y="1192">b1</text><text x="826" y="1192">t1</text>
<text x="91" y="1211">HP040</text><text x="208.5" y="1212">18</text><text x="285.5" y="1212">40</text><text x="363" y="1212">43</text><text x="441" y="1212">78</text><text x="518.5" y="1212">128</text><text x="595.5" y="1212">148</text><text x="673" y="1212">M6</text><text x="750" y="1212">6</text><text x="826" y="1212">20.5</text>
<text x="91" y="1231">HP050</text><text x="208.5" y="1232">25</text><text x="285.5" y="1232">50</text><text x="363" y="1232">53.5</text><text x="441" y="1232">92</text><text x="518.5" y="1232">153</text><text x="595.5" y="1232">199</text><text x="673" y="1232">M10</text><text x="750" y="1232">8</text><text x="826" y="1232">28</text>
<text x="91" y="1251">HP063</text><text x="208.5" y="1252">25</text><text x="285.5" y="1252">50</text><text x="363" y="1252">53.5</text><text x="441" y="1252">112</text><text x="518.5" y="1252">173</text><text x="595.5" y="1252">219</text><text x="673" y="1252">M10</text><text x="750" y="1252">8</text><text x="826" y="1252">28</text>
<text x="91" y="1271">HP075</text><text x="208.5" y="1272">28</text><text x="285.5" y="1272">60</text><text x="363" y="1272">63.5</text><text x="441" y="1272">120</text><text x="518.5" y="1272">192</text><text x="595.5" y="1272">247</text><text x="673" y="1272">M10</text><text x="750" y="1272">8</text><text x="826" y="1272">31</text>
</g>
<text x="12" y="1297" style="font-family:'Liberation Sans','Noto Sans CJK SC',sans-serif;font-size:12px">※非标产品，订单时请说明</text>
<text x="218" y="1297">※Only on request</text>
</svg>
</body></html>
